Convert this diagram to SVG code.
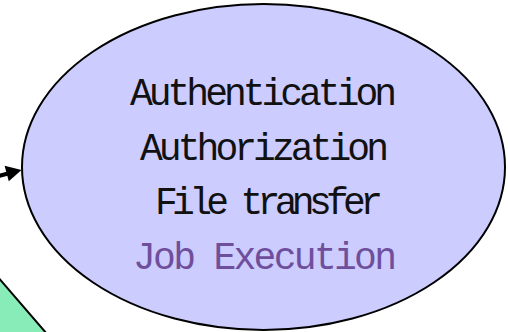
<svg xmlns="http://www.w3.org/2000/svg" width="508" height="332" viewBox="0 0 508 332">
  <style>
    .node-shape { stroke: #000000; stroke-width: 2; }
    .label { font-family: "Liberation Mono", "DejaVu Sans Mono", monospace; font-size: 38px; fill: #111111; }
    .label.muted { fill: #6f4f9c; }
    .edge { stroke: #000000; stroke-width: 4; fill: none; }
    .edge-head { fill: #000000; }
  </style>

  <rect x="0" y="0" width="508" height="332" fill="#ffffff"/>

  <!-- lower-left shape, partly outside the canvas -->
  <g id="node-lower-left">
    <polygon class="node-shape" points="-10,268 47,334 -10,334" fill="#88ecb8"/>
  </g>

  <!-- services ellipse -->
  <g id="node-services">
    <ellipse class="node-shape" cx="263.5" cy="167" rx="241.5" ry="163" fill="#ccccff"/>
    <text class="label" x="130" y="105" textLength="267">Authentication</text>
    <text class="label" x="140" y="160" textLength="249">Authorization</text>
    <text class="label" x="155" y="214" textLength="228">File transfer</text>
    <text class="label muted" x="133" y="269" textLength="264">Job Execution</text>
  </g>

  <g id="connectors">
    <path class="edge" d="M-20,181 L10,173"/>
    <polygon class="edge-head" points="21.5,170 4.6,165.8 8.8,181.2"/>
  </g>
</svg>
